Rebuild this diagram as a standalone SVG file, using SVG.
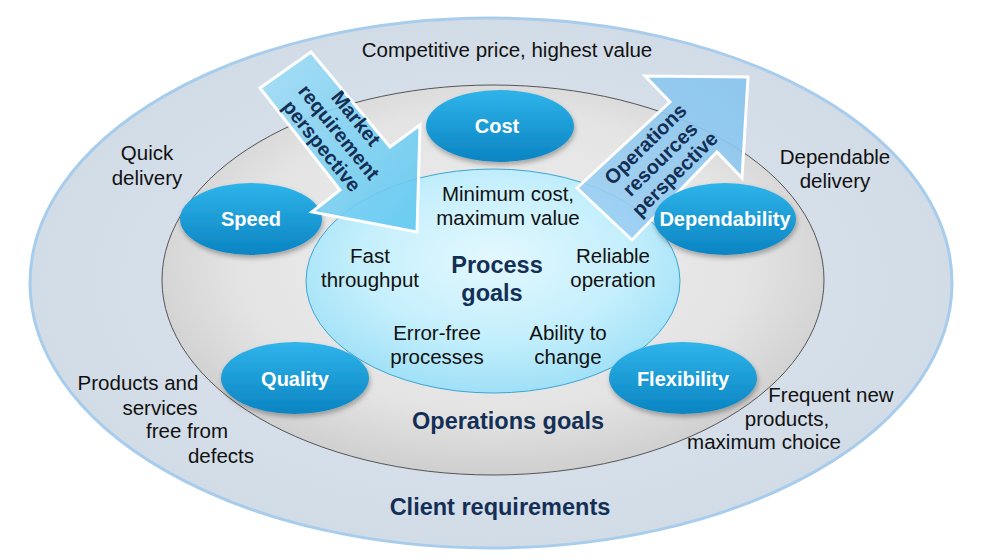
<svg xmlns="http://www.w3.org/2000/svg" width="989" height="560" viewBox="0 0 989 560">
<defs>
<radialGradient id="gOuter" cx="50%" cy="50%" r="50%">
<stop offset="0" stop-color="#dde5ee"/><stop offset="1" stop-color="#d2dce7"/>
</radialGradient>
<radialGradient id="gMid" cx="50%" cy="45%" r="55%">
<stop offset="0" stop-color="#eeeeee"/><stop offset="0.7" stop-color="#e4e4e4"/><stop offset="1" stop-color="#cfcfcf"/>
</radialGradient>
<radialGradient id="gInner" cx="50%" cy="40%" r="60%">
<stop offset="0" stop-color="#e3f8fe"/><stop offset="0.6" stop-color="#c4effc"/><stop offset="1" stop-color="#9fe0f7"/>
</radialGradient>
<linearGradient id="gNode" x1="0" y1="0" x2="0" y2="1">
<stop offset="0" stop-color="#2fb4ea"/><stop offset="1" stop-color="#0a84c2"/>
</linearGradient>
<linearGradient id="gMarket" x1="0" y1="0" x2="1" y2="1">
<stop offset="0" stop-color="#a3def7"/><stop offset="1" stop-color="#5cc6f0"/>
</linearGradient>
<linearGradient id="gOps" x1="0" y1="1" x2="1" y2="0">
<stop offset="0" stop-color="#9fd0f2"/><stop offset="1" stop-color="#86c4ee"/>
</linearGradient>
<filter id="sh" x="-20%" y="-20%" width="140%" height="150%">
<feDropShadow dx="1" dy="3" stdDeviation="2.5" flood-color="#000" flood-opacity="0.3"/>
</filter>
</defs>
<style>
.t{font-family:"Liberation Sans",Arial,sans-serif;font-size:20.5px;fill:#111;text-anchor:middle}
.b{font-family:"Liberation Sans",Arial,sans-serif;font-weight:bold;fill:#142f55;text-anchor:middle}
.n{font-family:"Liberation Sans",Arial,sans-serif;font-weight:bold;font-size:20px;fill:#fff;text-anchor:middle}
.node{fill:url(#gNode);filter:url(#sh)}
.arr{stroke:#fff;stroke-width:3;stroke-linejoin:miter}
</style>
<rect width="989" height="560" fill="#fff"/>
<g id="rings">
<ellipse cx="491" cy="283" rx="461" ry="265" fill="url(#gOuter)" stroke="#a8cdec" stroke-width="3"/>
<ellipse cx="493" cy="280" rx="331" ry="195" fill="url(#gMid)" stroke="#555" stroke-width="1"/>
<ellipse cx="493" cy="281" rx="187" ry="112" fill="url(#gInner)" stroke="#3aa6d4" stroke-width="1"/>
</g>
<g id="labels">
<text class="t" x="507" y="57">Competitive price, highest value</text>
<text class="t" x="147" y="160">Quick</text>
<text class="t" x="147" y="185">delivery</text>
<text class="t" x="835" y="164">Dependable</text>
<text class="t" x="835" y="188">delivery</text>
<text class="t" x="138" y="390">Products and</text>
<text class="t" x="160" y="415">services</text>
<text class="t" x="187" y="438">free from</text>
<text class="t" x="221" y="463">defects</text>
<text class="t" x="831" y="402">Frequent new</text>
<text class="t" x="787" y="426">products,</text>
<text class="t" x="764" y="449">maximum choice</text>
<text class="t" x="508" y="201">Minimum cost,</text>
<text class="t" x="508" y="225">maximum value</text>
<text class="t" x="370" y="263">Fast</text>
<text class="t" x="370" y="287">throughput</text>
<text class="t" x="613" y="263">Reliable</text>
<text class="t" x="613" y="287">operation</text>
<text class="t" x="437" y="340">Error-free</text>
<text class="t" x="437" y="364">processes</text>
<text class="t" x="568" y="340">Ability to</text>
<text class="t" x="568" y="364">change</text>
<text class="b" x="497" y="273" font-size="23.5">Process</text>
<text class="b" x="492" y="301" font-size="23.5">goals</text>
<text class="b" x="508" y="429" font-size="23.5">Operations goals</text>
<text class="b" x="500" y="515" font-size="23.5">Client requirements</text>
</g>
<g id="nodes">
<g id="cost"><ellipse class="node" cx="500" cy="126" rx="74" ry="36"/><text class="n" x="497" y="133">Cost</text></g>
<g id="speed"><ellipse class="node" cx="251" cy="219" rx="71" ry="36"/><text class="n" x="251" y="226">Speed</text></g>
<g id="quality"><ellipse class="node" cx="295" cy="378" rx="74" ry="36"/><text class="n" x="295" y="386">Quality</text></g>
<g id="flexibility"><ellipse class="node" cx="683" cy="378" rx="74" ry="36"/><text class="n" x="683" y="386">Flexibility</text></g>
</g>
<g id="connectors">
<g id="market-arrow">
<polygon class="arr" points="260,88 311,52 390,147 420,125 417,232 312,212 340,190" fill="url(#gMarket)" fill-opacity="0.88"/>
<g transform="translate(339,132) rotate(51)">
<text class="b" x="0" y="-15" font-size="20">Market</text>
<text class="b" x="0" y="7" font-size="20">requirement</text>
<text class="b" x="0" y="29" font-size="20">perspective</text>
</g>
</g>
<g id="ops-arrow">
<polygon class="arr" points="577,188 670,102 645,76 748,77 742,178 717,152 632,240" fill="url(#gOps)" fill-opacity="0.9"/>
<g transform="translate(660,159) rotate(-44.5)">
<text class="b" x="0" y="-14" font-size="20">Operations</text>
<text class="b" x="0" y="7" font-size="20">resources</text>
<text class="b" x="0" y="28" font-size="20">perspective</text>
</g>
</g>
</g>
<g id="dependability"><ellipse class="node" cx="725" cy="219" rx="71" ry="36"/><text class="n" x="725" y="226">Dependability</text></g>
</svg>
